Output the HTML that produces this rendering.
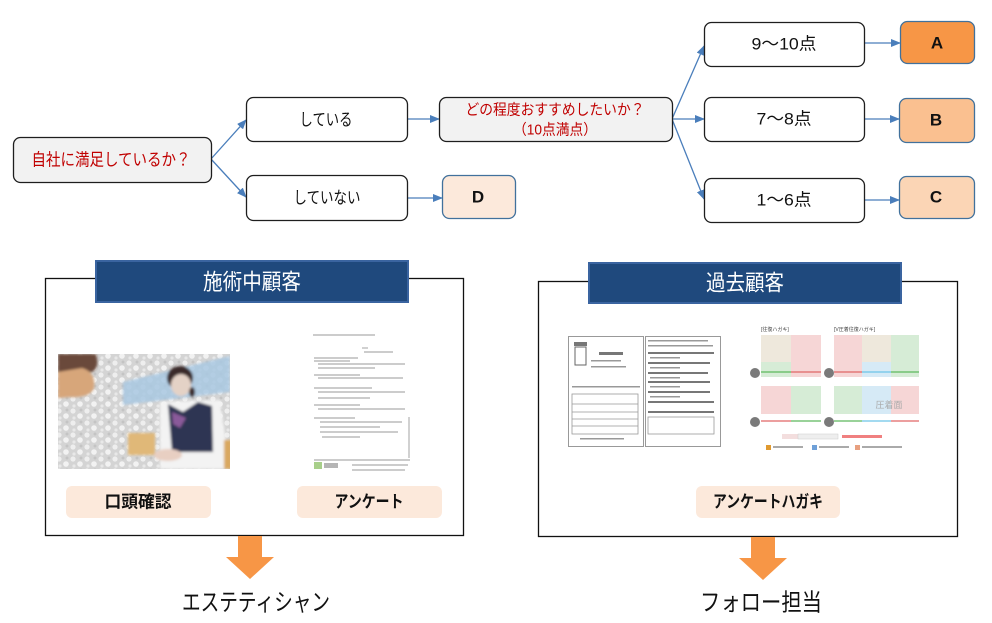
<!DOCTYPE html>
<html><head><meta charset="utf-8">
<style>
html,body{margin:0;padding:0;background:#fff;}
svg{display:block;}
text{font-family:"Liberation Sans","Noto Sans CJK JP",sans-serif;}
</style></head>
<body>
<svg width="992" height="623" viewBox="0 0 992 623" xmlns="http://www.w3.org/2000/svg">
<defs>
<marker id="ah" markerUnits="userSpaceOnUse" markerWidth="10" markerHeight="8" refX="9" refY="4" orient="auto">
<path d="M0,0 L10,4 L0,8 z" fill="#4a7ebb"/>
</marker>
<filter id="bl" x="-5%" y="-5%" width="110%" height="110%"><feGaussianBlur stdDeviation="1.2"/></filter>
<pattern id="mot" width="14" height="12" patternUnits="userSpaceOnUse">
<rect width="14" height="12" fill="#d4d4d4"/>
<circle cx="3" cy="3" r="2.6" fill="#eeeeee"/>
<circle cx="10" cy="8" r="2.8" fill="#f2f2f2"/>
<circle cx="11" cy="2" r="1.5" fill="#c4c4c4"/>
<circle cx="4" cy="10" r="1.6" fill="#e8e8e8"/>
</pattern>
</defs>

<!-- connectors -->
<g stroke="#4a7ebb" stroke-width="1.3" fill="none" marker-end="url(#ah)">
<line x1="211" y1="159" x2="246" y2="120"/>
<line x1="211" y1="159" x2="246" y2="197"/>
<line x1="407" y1="119" x2="439" y2="119"/>
<line x1="407" y1="198" x2="442" y2="198"/>
<line x1="672" y1="119" x2="704" y2="46"/>
<line x1="672" y1="119" x2="704" y2="119"/>
<line x1="672" y1="119" x2="704" y2="199"/>
<line x1="864" y1="43" x2="900" y2="43"/>
<line x1="864" y1="119" x2="899" y2="119"/>
<line x1="864" y1="200" x2="899" y2="200"/>
</g>

<!-- nodes -->
<g stroke="#1e1e1e" stroke-width="1.3">
<rect x="13.5" y="137.5" width="198" height="45" rx="7" fill="#f2f2f2"/>
<rect x="246.5" y="97.5" width="161" height="44" rx="7" fill="#fff"/>
<rect x="246.5" y="175.5" width="161" height="45" rx="7" fill="#fff"/>
<rect x="439.5" y="97.5" width="233" height="44" rx="7" fill="#f2f2f2"/>
<rect x="704.5" y="22.5" width="160" height="44" rx="7" fill="#fff"/>
<rect x="704.5" y="97.5" width="160" height="44" rx="7" fill="#fff"/>
<rect x="704.5" y="178.5" width="160" height="44" rx="7" fill="#fff"/>
</g>
<g stroke="#41719c" stroke-width="1.3">
<rect x="442.5" y="175.5" width="73" height="43" rx="7" fill="#fce9db"/>
<rect x="900.5" y="21.5" width="74" height="42" rx="7" fill="#f79646"/>
<rect x="899.5" y="98.5" width="75" height="44" rx="7" fill="#fac090"/>
<rect x="899.5" y="176.5" width="75" height="42" rx="7" fill="#fbd5b5"/>
</g>

<g dominant-baseline="central" text-anchor="middle">
<text x="111" y="160" font-size="17" fill="#c00000" textLength="159" lengthAdjust="spacingAndGlyphs">自社に満足しているか？</text>
<text x="326" y="120" font-size="17" fill="#111" textLength="53" lengthAdjust="spacingAndGlyphs">している</text>
<text x="327" y="198" font-size="17" fill="#111" textLength="67" lengthAdjust="spacingAndGlyphs">していない</text>
<text x="478" y="197" font-size="17" font-weight="bold" fill="#111">D</text>
<text x="555" y="110" font-size="15" fill="#c00000" textLength="179" lengthAdjust="spacingAndGlyphs">どの程度おすすめしたいか？</text>
<text x="555" y="130" font-size="15" fill="#c00000" textLength="84" lengthAdjust="spacingAndGlyphs">（10点満点）</text>
<text x="784" y="44" font-size="17" fill="#111" textLength="65" lengthAdjust="spacingAndGlyphs">9～10点</text>
<text x="784" y="119" font-size="17" fill="#111" textLength="55" lengthAdjust="spacingAndGlyphs">7～8点</text>
<text x="784" y="200" font-size="17" fill="#111" textLength="55" lengthAdjust="spacingAndGlyphs">1～6点</text>
<text x="937" y="43" font-size="17" font-weight="bold" fill="#111">A</text>
<text x="936" y="120" font-size="17" font-weight="bold" fill="#111">B</text>
<text x="936" y="197" font-size="17" font-weight="bold" fill="#111">C</text>
</g>

<!-- bottom panels -->
<rect x="45.5" y="278.5" width="418" height="257" fill="#fff" stroke="#111" stroke-width="1.3"/>
<rect x="538.5" y="281.5" width="419" height="255" fill="#fff" stroke="#111" stroke-width="1.3"/>
<rect x="96" y="261" width="312" height="41" fill="#1f497d" stroke="#3a64a0" stroke-width="2"/>
<rect x="589" y="263" width="312" height="40" fill="#1f497d" stroke="#3a64a0" stroke-width="2"/>
<g dominant-baseline="central" text-anchor="middle" fill="#fff">
<text x="252" y="282" font-size="22" textLength="98" lengthAdjust="spacingAndGlyphs">施術中顧客</text>
<text x="745" y="283" font-size="22" textLength="78" lengthAdjust="spacingAndGlyphs">過去顧客</text>
</g>

<!-- photo -->
<g>
<clipPath id="pc"><rect x="58" y="354" width="172" height="115"/></clipPath>
<g clip-path="url(#pc)">
<rect x="58" y="354" width="172" height="115" fill="url(#mot)"/>
<g filter="url(#bl)">
<polygon points="123,382 230,356 230,392 123,405" fill="#a9c8e2" opacity="0.85"/>
<path d="M58,354 L96,354 Q100,368 92,372 L80,374 L58,378 z" fill="#6a4a3a"/>
<path d="M58,372 L82,368 Q96,372 94,388 Q90,398 70,397 L58,398 z" fill="#d7a67a"/>
<ellipse cx="180" cy="378" rx="13" ry="12" fill="#3b2b2b"/>
<ellipse cx="181" cy="385" rx="10" ry="11" fill="#e4d2c6"/>
<ellipse cx="192" cy="392" rx="3" ry="5" fill="#3b2b2b"/>
<path d="M160,402 L220,400 L230,469 L160,469 z" fill="#f3f3f3"/>
<path d="M168,404 L183,412 L198,402 L212,406 L213,452 L172,452 z" fill="#2f3652"/>
<path d="M172,412 L186,418 L180,428 L173,424 z" fill="#8a5a9a"/>
<rect x="128" y="433" width="27" height="22" fill="#e0b878"/>
<ellipse cx="168" cy="455" rx="14" ry="6" fill="#e8cfc2"/>
<rect x="224" y="440" width="8" height="29" fill="#d9a860"/>
</g>
</g>
</g>

<!-- anketo doc -->
<g stroke="#999" stroke-width="0.9" fill="none">
<line x1="313" y1="335" x2="375" y2="335"/>
<line x1="362" y1="348" x2="368" y2="348"/>
<line x1="364" y1="352" x2="393" y2="352"/>
<line x1="314" y1="358" x2="358" y2="358"/>
<line x1="314" y1="361" x2="350" y2="361"/>
<line x1="318" y1="364" x2="405" y2="364"/>
<line x1="318" y1="368" x2="375" y2="368"/>
<line x1="314" y1="375" x2="360" y2="375"/>
<line x1="318" y1="378" x2="403" y2="378"/>
<line x1="314" y1="388" x2="372" y2="388"/>
<line x1="318" y1="392" x2="405" y2="392"/>
<line x1="318" y1="398" x2="370" y2="398"/>
<line x1="314" y1="405" x2="360" y2="405"/>
<line x1="318" y1="409" x2="405" y2="409"/>
<line x1="314" y1="418" x2="355" y2="418"/>
<line x1="320" y1="422" x2="402" y2="422"/>
<line x1="320" y1="427" x2="380" y2="427"/>
<line x1="320" y1="432" x2="398" y2="432"/>
<line x1="322" y1="437" x2="360" y2="437"/>
<line x1="409" y1="417" x2="409" y2="458"/>
<line x1="314" y1="460" x2="410" y2="460"/>
<line x1="352" y1="465" x2="408" y2="465"/>
<line x1="352" y1="470" x2="405" y2="470"/>
</g>
<rect x="314" y="462" width="8" height="7" fill="#a8cf8a"/>
<rect x="324" y="463" width="14" height="5" fill="#b5b5b5"/>

<!-- hagaki left -->
<g stroke="#999" stroke-width="1" fill="#fff">
<rect x="568.5" y="336.5" width="75" height="110"/>
<rect x="645.5" y="336.5" width="75" height="110"/>
</g>
<g fill="#777">
<rect x="574" y="342" width="13" height="4"/>
<rect x="575" y="347" width="11" height="18" fill="none" stroke="#666" stroke-width="1"/>
<rect x="599" y="352" width="24" height="3"/>
<rect x="591" y="360" width="30" height="1.5" fill="#999"/>
<rect x="591" y="366" width="35" height="1.5" fill="#999"/>
<rect x="572" y="386" width="68" height="1.5" fill="#999"/>
<rect x="648" y="340" width="60" height="1.5" fill="#999"/>
<rect x="648" y="345" width="65" height="1.5" fill="#999"/>
<rect x="648" y="352" width="66" height="2"/>
<rect x="650" y="357" width="30" height="1.5" fill="#999"/>
<rect x="648" y="362" width="62" height="2"/>
<rect x="650" y="367" width="30" height="1.5" fill="#999"/>
<rect x="648" y="372" width="60" height="2"/>
<rect x="650" y="377" width="30" height="1.5" fill="#999"/>
<rect x="648" y="381" width="62" height="2"/>
<rect x="650" y="386" width="30" height="1.5" fill="#999"/>
<rect x="648" y="391" width="62" height="2"/>
<rect x="650" y="396" width="30" height="1.5" fill="#999"/>
<rect x="648" y="401" width="66" height="2"/>
<rect x="648" y="411" width="66" height="2"/>
<rect x="580" y="438" width="44" height="1.5" fill="#999"/>
</g>
<g stroke="#999" stroke-width="0.8" fill="none">
<rect x="572" y="394" width="66" height="40"/>
<line x1="572" y1="404" x2="638" y2="404"/>
<line x1="572" y1="412" x2="638" y2="412"/>
<line x1="572" y1="419" x2="638" y2="419"/>
<line x1="572" y1="426" x2="638" y2="426"/>
<rect x="648" y="417" width="66" height="17"/>
</g>

<!-- hagaki right -->
<g font-size="5" fill="#444">
<text x="761" y="331">[往復ハガキ]</text>
<text x="834" y="331">[V圧着往復ハガキ]</text>
</g>
<g>
<rect x="761" y="335" width="30" height="42" fill="#d6ecd6"/>
<rect x="761" y="335" width="30" height="27" fill="#eee8dc"/>
<rect x="791" y="335" width="30" height="42" fill="#f6d6d6"/>
<rect x="834" y="335" width="28" height="42" fill="#f6d6d6"/>
<rect x="862" y="335" width="29" height="42" fill="#d6eaf6"/>
<rect x="862" y="335" width="29" height="27" fill="#eee8dc"/>
<rect x="891" y="335" width="28" height="42" fill="#d6ecd6"/>
<rect x="761" y="386" width="30" height="28" fill="#f6d6d6"/>
<rect x="791" y="386" width="30" height="28" fill="#d6ecd6"/>
<rect x="834" y="386" width="28" height="28" fill="#d6ecd6"/>
<rect x="862" y="386" width="29" height="28" fill="#d6eaf6"/>
<rect x="891" y="386" width="28" height="28" fill="#f6d6d6"/>
</g>
<g stroke-width="1.2">
<line x1="761" y1="372" x2="791" y2="372" stroke="#5cb85c"/>
<line x1="791" y1="372" x2="821" y2="372" stroke="#e06666"/>
<line x1="834" y1="372" x2="862" y2="372" stroke="#e06666"/>
<line x1="862" y1="372" x2="891" y2="372" stroke="#6cc4e8"/>
<line x1="891" y1="372" x2="919" y2="372" stroke="#5cb85c"/>
<line x1="761" y1="421" x2="791" y2="421" stroke="#e06666"/>
<line x1="791" y1="421" x2="821" y2="421" stroke="#5cb85c"/>
<line x1="834" y1="421" x2="862" y2="421" stroke="#5cb85c"/>
<line x1="862" y1="421" x2="891" y2="421" stroke="#6cc4e8"/>
<line x1="891" y1="421" x2="919" y2="421" stroke="#e06666"/>
</g>
<g fill="#7a7a7a">
<circle cx="755" cy="373" r="5"/>
<circle cx="829" cy="373" r="5"/>
<circle cx="755" cy="422" r="5"/>
<circle cx="829" cy="422" r="5"/>
</g>
<text x="889" y="408" font-size="9" fill="#aaa" text-anchor="middle">圧着面</text>
<g>
<rect x="782" y="434" width="16" height="5" fill="#f3dede"/>
<rect x="798" y="434" width="40" height="5" fill="#eee" stroke="#ccc" stroke-width="0.5"/>
<rect x="842" y="435" width="40" height="3" fill="#f08080"/>
<rect x="766" y="445" width="5" height="5" fill="#e09a30"/>
<rect x="773" y="446" width="30" height="2" fill="#aaa"/>
<rect x="812" y="445" width="5" height="5" fill="#6fa0d8"/>
<rect x="819" y="446" width="30" height="2" fill="#aaa"/>
<rect x="855" y="445" width="5" height="5" fill="#e8a080"/>
<rect x="862" y="446" width="40" height="2" fill="#aaa"/>
</g>

<!-- labels -->
<rect x="66" y="486" width="145" height="32" rx="6" fill="#fce9db"/>
<rect x="297" y="486" width="145" height="32" rx="6" fill="#fce9db"/>
<rect x="696" y="486" width="144" height="32" rx="6" fill="#fce9db"/>
<g dominant-baseline="central" text-anchor="middle" font-weight="bold" fill="#111">
<text x="138" y="502" font-size="17" textLength="67" lengthAdjust="spacingAndGlyphs">口頭確認</text>
<text x="369" y="502" font-size="17" textLength="69" lengthAdjust="spacingAndGlyphs">アンケート</text>
<text x="768" y="502" font-size="17" textLength="110" lengthAdjust="spacingAndGlyphs">アンケートハガキ</text>
</g>

<!-- orange arrows -->
<polygon points="238,536 262,536 262,557 274,557 250,579 226,557 238,557" fill="#f79646"/>
<polygon points="751,537 775,537 775,558 787,558 763,580 739,558 751,558" fill="#f79646"/>

<g dominant-baseline="central" text-anchor="middle" fill="#111">
<text x="256" y="603" font-size="24" textLength="148" lengthAdjust="spacingAndGlyphs">エステティシャン</text>
<text x="761" y="603" font-size="24" textLength="122" lengthAdjust="spacingAndGlyphs">フォロー担当</text>
</g>
</svg>
</body></html>
